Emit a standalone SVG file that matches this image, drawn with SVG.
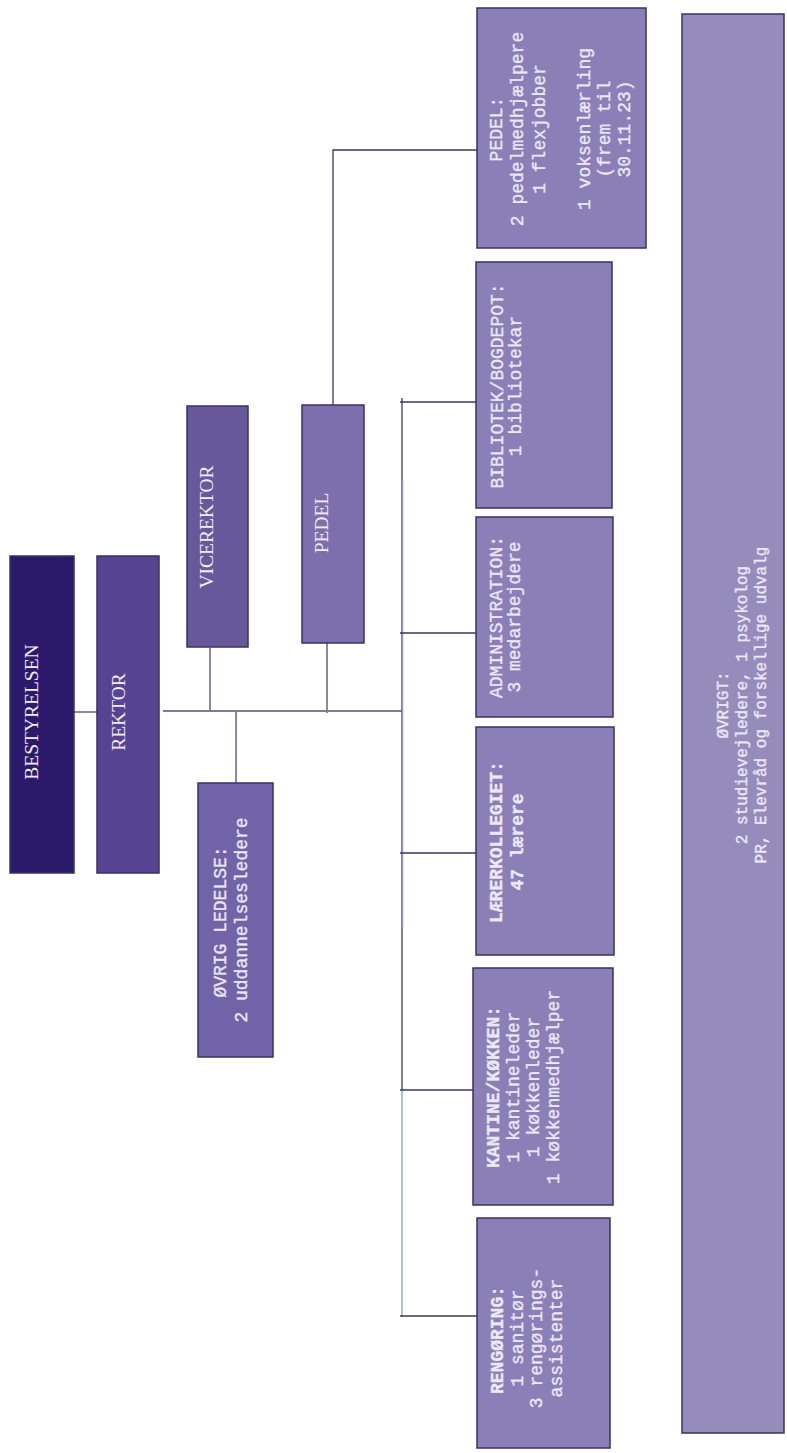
<svg xmlns="http://www.w3.org/2000/svg" width="787" height="1453" viewBox="0 0 787 1453">
<style>
.box{stroke:#3a3066;stroke-width:1.5}
.t{font-family:"Liberation Serif",serif;font-size:19.5px;fill:#f1eef8;text-anchor:middle}
.m{font-family:"Liberation Mono",monospace;font-size:18px;fill:#ece8f6;stroke:#ece8f6;stroke-width:0.35;text-anchor:middle}
.b{font-weight:bold}
.ln{stroke:#3b3565;stroke-width:1.3;fill:none}
.lm{stroke:#7f7aa3;stroke-width:1.8;fill:none}
</style>
<rect width="787" height="1453" fill="#ffffff"/>
<g id="connectors">
<line class="lm" x1="74" y1="712" x2="97" y2="712"/>
<line class="lm" x1="163" y1="711" x2="402" y2="711"/>
<line class="lm" x1="210" y1="648" x2="210" y2="711"/>
<line class="lm" x1="327" y1="643" x2="327" y2="713"/>
<line class="lm" x1="236" y1="711" x2="236" y2="783"/>
<polyline class="ln" points="333,405 333,150 477,150"/>
<line class="ln" x1="402" y1="398" x2="402" y2="1090"/>
<line stroke="#9a94c0" stroke-width="1.5" x1="402.5" y1="480" x2="402.5" y2="928"/>
<line stroke="#7fa3b8" stroke-width="1.3" x1="402" y1="1090" x2="402" y2="1317"/>
<line class="ln" x1="400" y1="402" x2="476" y2="402"/>
<line class="ln" x1="400" y1="633" x2="476" y2="633"/>
<line class="ln" x1="400" y1="853" x2="476" y2="853"/>
<line class="ln" x1="400" y1="1090" x2="473" y2="1090"/>
<line class="ln" x1="400" y1="1316" x2="477" y2="1316"/>
</g>
<g id="bestyrelsen">
<rect class="box" x="10" y="556" width="64" height="317" fill="#2b1a6b"/>
<text class="t" transform="translate(38,712) rotate(-90)">BESTYRELSEN</text>
</g>
<g id="rektor">
<rect class="box" x="97" y="556" width="62" height="317" fill="#574391"/>
<text class="t" transform="translate(125,712) rotate(-90)">REKTOR</text>
</g>
<g id="vicerektor">
<rect class="box" x="187" y="406" width="61" height="241" fill="#67589c"/>
<text class="t" transform="translate(213,527) rotate(-90)">VICEREKTOR</text>
</g>
<g id="pedel">
<rect class="box" x="302" y="405" width="62" height="238" fill="#7d6fae"/>
<text class="t" transform="translate(328,523) rotate(-90)">PEDEL</text>
</g>
<g id="ovrig-ledelse">
<rect class="box" x="198" y="783" width="75" height="274" fill="#7063a8"/>
<text class="m" transform="translate(226,922) rotate(-90)">ØVRIG LEDELSE:</text>
<text class="m" transform="translate(247,920) rotate(-90)">2 uddannelsesledere</text>
</g>
<g id="pedel-detail">
<rect class="box" x="477" y="8" width="169" height="240" fill="#8a7fb7"/>
<text class="m" transform="translate(502,129) rotate(-90)">PEDEL:</text>
<text class="m" transform="translate(523,129) rotate(-90)">2 pedelmedhjælpere</text>
<text class="m" transform="translate(545,129) rotate(-90)">1 flexjobber</text>
<text class="m" transform="translate(590,129) rotate(-90)">1 voksenlærling</text>
<text class="m" transform="translate(610,129) rotate(-90)">(frem til</text>
<text class="m" transform="translate(630,129) rotate(-90)">30.11.23)</text>
</g>
<g id="bibliotek">
<rect class="box" x="476" y="262" width="136" height="246" fill="#8a7fb7"/>
<text class="m" transform="translate(503,386) rotate(-90)">BIBLIOTEK/BOGDEPOT:</text>
<text class="m" transform="translate(521,386) rotate(-90)">1 bibliotekar</text>
</g>
<g id="administration">
<rect class="box" x="476" y="517" width="137" height="200" fill="#8a7fb7"/>
<text class="m" transform="translate(502,617) rotate(-90)">ADMINISTRATION:</text>
<text class="m" transform="translate(520,617) rotate(-90)">3 medarbejdere</text>
</g>
<g id="laererkollegiet">
<rect class="box" x="476" y="727" width="138" height="228" fill="#8a7fb7"/>
<text class="m b" transform="translate(502,842) rotate(-90)">LÆRERKOLLEGIET:</text>
<text class="m b" transform="translate(523,842) rotate(-90)">47 lærere</text>
</g>
<g id="kantine">
<rect class="box" x="473" y="968" width="140" height="237" fill="#8a7fb7"/>
<text class="m b" transform="translate(499,1087) rotate(-90)">KANTINE/KØKKEN:</text>
<text class="m" transform="translate(519,1087) rotate(-90)">1 kantineleder</text>
<text class="m" transform="translate(539,1087) rotate(-90)">1 køkkenleder</text>
<text class="m" transform="translate(559,1087) rotate(-90)">1 køkkenmedhjælper</text>
</g>
<g id="rengoring">
<rect class="box" x="477" y="1218" width="133" height="230" fill="#8a7fb7"/>
<text class="m b" transform="translate(503,1340) rotate(-90)">RENGØRING:</text>
<text class="m" transform="translate(523,1338) rotate(-90)">1 sanitør</text>
<text class="m" transform="translate(542,1338) rotate(-90)">3 rengørings-</text>
<text class="m" transform="translate(562,1338) rotate(-90)">assistenter</text>
</g>
<g id="ovrigt">
<rect class="box" x="682" y="14" width="102" height="1419" fill="#958cbb"/>
<text class="m" style="font-size:16px" transform="translate(728,705) rotate(-90)">ØVRIGT:</text>
<text class="m" style="font-size:16px" transform="translate(747,705) rotate(-90)">2 studievejledere, 1 psykolog</text>
<text class="m" style="font-size:16px" transform="translate(766,705) rotate(-90)">PR, Elevråd og forskellige udvalg</text>
</g>
</svg>
